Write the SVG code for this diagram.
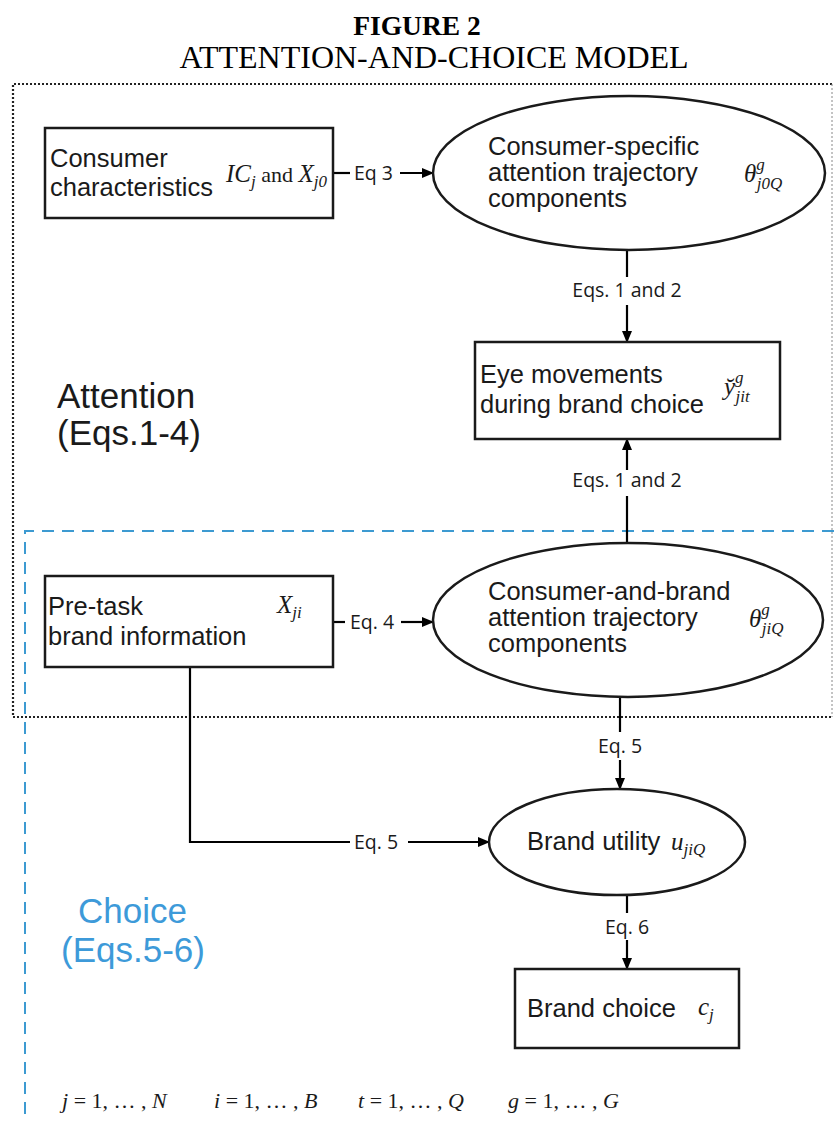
<svg xmlns="http://www.w3.org/2000/svg" width="834" height="1122" viewBox="0 0 834 1122">
<defs>
<marker id="ah" markerWidth="12" markerHeight="12" refX="11" refY="6" orient="auto" markerUnits="userSpaceOnUse">
<path d="M0,1 L12,6 L0,11 Z" fill="#000"/>
</marker>
<style>
.node{fill:#fff;stroke:#1a1a1a;stroke-width:2.5}
.lbl{font-family:"Liberation Sans",Arial,sans-serif;font-size:25.5px;fill:#1a1a1a}
.eq{font-family:"Open Sans","Noto Sans",sans-serif;font-size:19.5px;fill:#1a1a1a}
.m{font-family:"Liberation Serif","DejaVu Serif",serif;font-style:italic;font-size:25px;fill:#1a1a1a}
.ft{font-family:"Liberation Serif","DejaVu Serif",serif;font-style:italic;font-size:22px;fill:#1a1a1a}
.mr{font-style:normal}
.s{font-size:17px}
.conn{stroke:#000;stroke-width:2.2;fill:none}
.ttl{font-family:"Liberation Serif","Times New Roman",serif;fill:#000;text-anchor:middle}
.grp{font-family:"Liberation Sans",Arial,sans-serif;font-size:35px}
</style>
</defs>
<rect width="834" height="1122" fill="#fff"/>

<text class="ttl" x="417" y="35" font-size="27.5" font-weight="bold">FIGURE 2</text>
<text class="ttl" x="434" y="68" font-size="32">ATTENTION-AND-CHOICE MODEL</text>

<g id="regions">
<path d="M832,84 L13,84 L13,717 L832,717" fill="none" stroke="#222" stroke-width="2.2" stroke-dasharray="2,2"/>
<line x1="832" y1="84" x2="832" y2="717" stroke="#888" stroke-width="1" stroke-dasharray="2,2"/>
<path d="M834,531 L25,531 L25,1122" fill="none" stroke="#3d9ad1" stroke-width="2" stroke-dasharray="12,8"/>
<text class="grp" fill="#1a1a1a"><tspan x="57" y="408">Attention</tspan><tspan x="57" y="445">(Eqs.1-4)</tspan></text>
<text class="grp" fill="#3d9ad9"><tspan x="78" y="923">Choice</tspan><tspan x="61" y="962">(Eqs.5-6)</tspan></text>
</g>

<g id="connectors">
<line class="conn" x1="334" y1="173" x2="350" y2="173"/>
<text class="eq" x="354" y="180">Eq 3</text>
<line class="conn" x1="400" y1="173" x2="433" y2="173" marker-end="url(#ah)"/>

<line class="conn" x1="627" y1="250" x2="627" y2="277"/>
<text class="eq" x="627" y="297" text-anchor="middle">Eqs. 1 and 2</text>
<line class="conn" x1="627" y1="305" x2="627" y2="342" marker-end="url(#ah)"/>

<line class="conn" x1="627" y1="543" x2="627" y2="496"/>
<text class="eq" x="627" y="487" text-anchor="middle">Eqs. 1 and 2</text>
<line class="conn" x1="627" y1="470" x2="627" y2="439" marker-end="url(#ah)"/>

<line class="conn" x1="334" y1="622" x2="345" y2="622"/>
<text class="eq" x="350" y="629">Eq. 4</text>
<line class="conn" x1="401" y1="622" x2="433" y2="622" marker-end="url(#ah)"/>

<line class="conn" x1="620" y1="697" x2="620" y2="732"/>
<text class="eq" x="620" y="753" text-anchor="middle">Eq. 5</text>
<line class="conn" x1="620" y1="760" x2="620" y2="789" marker-end="url(#ah)"/>

<polyline class="conn" points="190,667 190,842 350,842"/>
<text class="eq" x="354" y="849">Eq. 5</text>
<line class="conn" x1="408" y1="842" x2="489" y2="842" marker-end="url(#ah)"/>

<line class="conn" x1="627" y1="895" x2="627" y2="913"/>
<text class="eq" x="627" y="934" text-anchor="middle">Eq. 6</text>
<line class="conn" x1="627" y1="940" x2="627" y2="969" marker-end="url(#ah)"/>
</g>

<g id="consumer-characteristics">
<rect class="node" x="45" y="128" width="288" height="90"/>
<text class="lbl"><tspan x="50" y="167">Consumer</tspan><tspan x="50" y="196">characteristics</tspan></text>
<text class="m" x="226" y="182">IC<tspan class="s" dy="5">j</tspan><tspan class="mr" dy="-5" style="font-size:22px"> and </tspan>X<tspan class="s" dy="5">j0</tspan></text>
</g>

<g id="consumer-specific">
<ellipse class="node" cx="629" cy="173" rx="196" ry="77"/>
<text class="lbl"><tspan x="488" y="155">Consumer-specific</tspan><tspan x="488" y="181">attention trajectory</tspan><tspan x="488" y="207">components</tspan></text>
<text class="m" x="744" y="182">θ<tspan class="s" dy="-12">g</tspan><tspan class="s" dx="-8" dy="19">j0Q</tspan></text>
</g>

<g id="eye-movements">
<rect class="node" x="475" y="342" width="305" height="97"/>
<text class="lbl"><tspan x="480" y="383">Eye movements</tspan><tspan x="480" y="413">during brand choice</tspan></text>
<text class="m" x="724" y="395">y̆<tspan class="s" dy="-12">g</tspan><tspan class="s" dx="-8" dy="19">jit</tspan></text>
</g>

<g id="pre-task">
<rect class="node" x="45" y="576" width="288" height="91"/>
<text class="lbl"><tspan x="48" y="615">Pre-task</tspan><tspan x="48" y="645">brand information</tspan></text>
<text class="m" x="277" y="613">X<tspan class="s" dy="5">ji</tspan></text>
</g>

<g id="consumer-and-brand">
<ellipse class="node" cx="628" cy="620" rx="195" ry="77"/>
<text class="lbl"><tspan x="488" y="600">Consumer-and-brand</tspan><tspan x="488" y="626">attention trajectory</tspan><tspan x="488" y="652">components</tspan></text>
<text class="m" x="749" y="627">θ<tspan class="s" dy="-12">g</tspan><tspan class="s" dx="-8" dy="19">jiQ</tspan></text>
</g>

<g id="brand-utility">
<ellipse class="node" cx="617" cy="842" rx="128" ry="53"/>
<text class="lbl" x="527" y="850">Brand utility</text>
<text class="m" x="671" y="850">u<tspan class="s" dy="5">jiQ</tspan></text>
</g>

<g id="brand-choice">
<rect class="node" x="515" y="969" width="224" height="79"/>
<text class="lbl" x="527" y="1017">Brand choice</text>
<text class="m" x="698" y="1015">c<tspan class="s" dy="5">j</tspan></text>
</g>

<g id="footer">
<text class="ft" x="62" y="1108">j <tspan class="mr">= 1, … ,</tspan> N</text>
<text class="ft" x="214" y="1108">i <tspan class="mr">= 1, … ,</tspan> B</text>
<text class="ft" x="358" y="1108">t <tspan class="mr">= 1, … ,</tspan> Q</text>
<text class="ft" x="508" y="1108">g <tspan class="mr">= 1, … ,</tspan> G</text>
</g>
</svg>
